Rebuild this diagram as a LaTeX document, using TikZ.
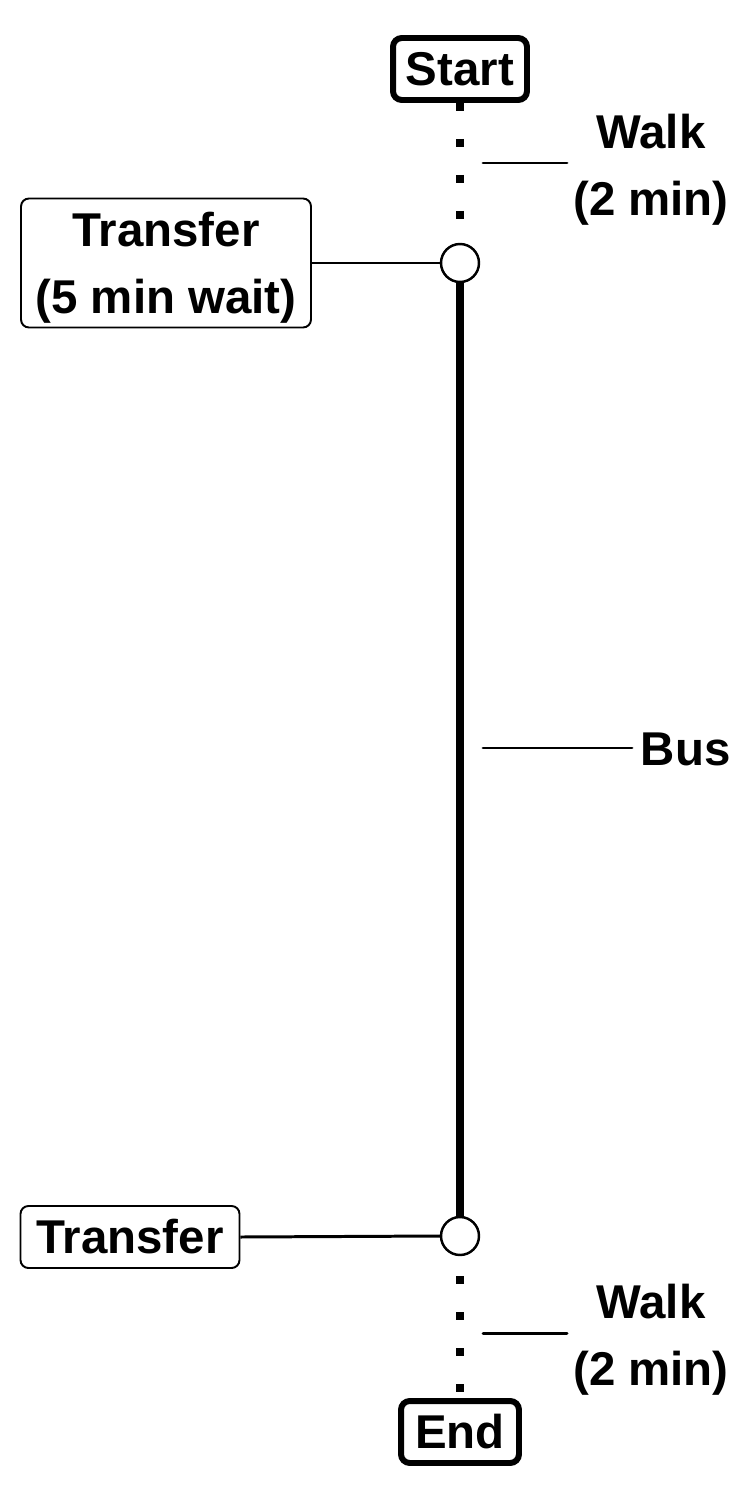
\documentclass[tikz,border=0pt]{standalone}
\usepackage{fontspec}
\setmainfont{Liberation Sans}
\begin{document}
\begin{tikzpicture}[x=0.02cm,y=-0.02cm]
\tikzstyle{every node}=[font=\fontsize{27}{38}\selectfont\bfseries];
\tikzstyle{endpoint}=[draw,line width=3.4pt,rounded corners=5pt,minimum height=1.24cm,inner sep=0pt];
\tikzstyle{transfer}=[draw,line width=1.1pt,rounded corners=4.5pt,align=center,inner sep=0pt];
\tikzstyle{stop}=[draw,circle,fill=white,line width=1.4pt,minimum size=0.76cm,inner sep=0pt];
\tikzstyle{walkline}=[line width=4.5pt,dash pattern=on 0.16cm off 0.56cm];
\tikzstyle{leader}=[line width=1.7pt,line cap=round];
\tikzstyle{legend}=[align=center,inner sep=2pt];
\useasboundingbox (0,0) rectangle (750,1500);

\node[endpoint,minimum width=2.68cm] (start) at (460,69) {Start};
\node[endpoint,minimum width=2.36cm] (end) at (460,1432) {End};
\node[stop] (stopA) at (460,263) {};
\node[stop] (stopB) at (460,1236) {};
\node[transfer,minimum width=5.8cm,minimum height=2.58cm,text depth=0pt] (transferA) at (166,263) {Transfer\\(5 min wait)};
\node[transfer,minimum width=4.38cm,minimum height=1.24cm] (transferB) at (130,1237) {Transfer};

% route
\draw[walkline] (start.south) -- (stopA.north);
\draw[line width=0.16cm] (stopA.south) -- (stopB.north);
\draw[walkline,dash phase=0.32cm] (stopB.south) -- (end.north);
\draw[line width=1.7pt] (transferA.east) -- (stopA.west);
\draw[line width=1.7pt] (transferB.east) -- (stopB.west);

% legs
\node[legend] (walkA) at (651,170) {Walk\\(2 min)};
\node[legend,anchor=west] (bus) at (637,749) {Bus};
\node[legend] (walkB) at (651,1340) {Walk\\(2 min)};
\coordinate (walkAtip) at (483,163);
\coordinate (walkAend) at (567,163);
\coordinate (busTip) at (483,748);
\coordinate (busEnd) at (632,748);
\coordinate (walkBtip) at (483,1333);
\coordinate (walkBend) at (567,1333);
\draw[leader] (walkAtip) -- (walkAend);
\draw[leader] (busTip) -- (busEnd);
\draw[leader] (walkBtip) -- (walkBend);
\end{tikzpicture}
\end{document}
